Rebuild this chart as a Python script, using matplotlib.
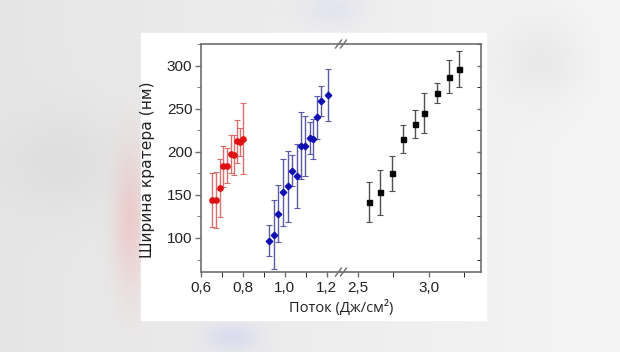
import numpy as np
import matplotlib
matplotlib.use("Agg")
import matplotlib.pyplot as plt
from matplotlib.patches import Rectangle
from matplotlib.lines import Line2D

# crater width vs fluence, three series
red_x = [0.656, 0.674, 0.692, 0.706, 0.725, 0.742, 0.758, 0.772, 0.787, 0.800]
red_y = [144, 144, 158, 183, 184, 197, 196, 212, 211, 215]
red_err = [31, 32, 34, 24, 20, 22, 23, 25, 16, 41]

blue_x = [0.926, 0.948, 0.970, 0.994, 1.016, 1.037, 1.057, 1.078, 1.098, 1.119, 1.136, 1.152, 1.171, 1.206]
blue_y = [97, 104, 128, 153, 160, 178, 172, 207, 207, 216, 215, 240, 259, 266]
blue_err = [18, 40, 33, 39, 41, 18, 37, 39, 35, 19, 23, 25, 17, 30]

black_x = [2.575, 2.656, 2.741, 2.821, 2.903, 2.965, 3.061, 3.142, 3.217]
black_y = [142, 153, 175, 215, 232, 245, 268, 287, 296]
black_err = [23, 26, 20, 16, 16, 23, 12, 19, 21]

left_ticks = [0.6, 0.8, 1.0, 1.2]
right_ticks = [2.5, 3.0]
y_ticks = [100, 150, 200, 250, 300]

W, H = 620, 352
fig = plt.figure(figsize=(W / 100, H / 100), dpi=100)

# blurred page background behind the chart
bg = fig.add_axes([0, 0, 1, 1])
yy, xx = np.mgrid[0:H:4, 0:W:4]
base = 0.90 + 0.06 * (xx / W)
img = np.dstack([base, base, base])
def blob(cx, cy, sx, sy, col, a):
    g = a * np.exp(-(((xx - cx) / sx) ** 2 + ((yy - cy) / sy) ** 2))
    for i in range(3):
        img[..., i] = img[..., i] * (1 - g) + col[i] * g
blob(128, 215, 16, 70, (0.95, 0.66, 0.66), 0.45)
blob(330, 8, 30, 16, (0.82, 0.82, 0.95), 0.35)
blob(230, 335, 28, 14, (0.80, 0.80, 0.95), 0.5)
blob(60, 160, 60, 50, (0.84, 0.84, 0.84), 0.5)
blob(540, 60, 40, 40, (0.86, 0.86, 0.86), 0.4)
bg.imshow(np.clip(img, 0, 1), extent=[0, W, H, 0], interpolation="bicubic", aspect="auto")
bg.set_xlim(0, W)
bg.set_ylim(H, 0)
bg.axis("off")
bg.add_patch(Rectangle((141, 33), 345, 287, color="white", zorder=2))

plt.rcParams["font.family"] = ["Liberation Sans", "DejaVu Sans"]
spine_col = "#6e6e6e"

bottom, height = 1 - 272 / H, (272 - 44) / H
axl = fig.add_axes([200.7 / W, bottom, (341 - 200.7) / W, height])
axr = fig.add_axes([341 / W, bottom, (480.7 - 341) / W, height])

for ax in (axl, axr):
    ax.set_ylim(60.5, 325)
    ax.patch.set_alpha(0)
    for s in ax.spines.values():
        s.set_color(spine_col)
        s.set_linewidth(1.2)
    ax.tick_params(colors=spine_col, labelcolor="#222222", labelsize=11, width=1)

axl.set_xlim(0.6, 1.268)
axr.set_xlim(2.38, 3.368)

axl.errorbar(red_x, red_y, yerr=red_err, fmt="o", color="#e01010", ms=3.8,
             ecolor="#d87070", elinewidth=1, capsize=2, capthick=0.8)
axl.errorbar(blue_x, blue_y, yerr=blue_err, fmt="D", color="#1010b0", ms=3.3,
             ecolor="#5a5aa8", elinewidth=1, capsize=2, capthick=0.8)
axr.errorbar(black_x, black_y, yerr=black_err, fmt="s", color="#050505", ms=3.6,
             ecolor="#505050", elinewidth=1, capsize=2, capthick=0.8)

axl.spines["right"].set_visible(False)
axr.spines["left"].set_visible(False)

axl.set_xticks(left_ticks)
axl.set_xticklabels([f"{t:.1f}".replace(".", ",") for t in left_ticks])
axl.set_xticks([0.7, 0.9, 1.1], minor=True)
axr.set_xticks(right_ticks)
axr.set_xticklabels([f"{t:.1f}".replace(".", ",") for t in right_ticks])
axr.set_xticks([2.75, 3.25], minor=True)

axl.set_yticks(y_ticks)
axl.set_yticks([75, 125, 175, 225, 275, 325], minor=True)
axl.tick_params(axis="y", which="major", length=4, pad=2)
axl.tick_params(axis="y", which="minor", length=3, color=spine_col)
axl.tick_params(axis="x", which="both", length=3.5, pad=3)
axr.tick_params(axis="x", which="both", length=3.5, pad=3)

axr.set_yticks(y_ticks)
axr.set_yticks([75, 125, 175, 225, 275, 325], minor=True)
axr.tick_params(axis="y", which="both", left=False, right=True, labelleft=False,
                direction="in", length=3)

axl.set_ylabel("Ширина кратера (нм)", fontsize=11.2, color="#222222",
               family=["DejaVu Sans"])
axl.yaxis.set_label_coords(-0.325, 0.45)
fig.text(341 / W, 1 - 308 / H, "Поток (Дж/см²)", ha="center", va="center",
         fontsize=10.5, color="#222222", family=["Open Sans", "DejaVu Sans"])

# axis break marks
for yb in (44, 272):
    bg.add_patch(Rectangle((337, yb - 2), 8, 4, color="white", zorder=5))
    for dx in (-2.5, 2.5):
        bg.add_line(Line2D([341 + dx - 3, 341 + dx + 3], [yb + 4, yb - 4],
                           color=spine_col, lw=1, zorder=6))

fig.savefig("out.png", dpi=100)
